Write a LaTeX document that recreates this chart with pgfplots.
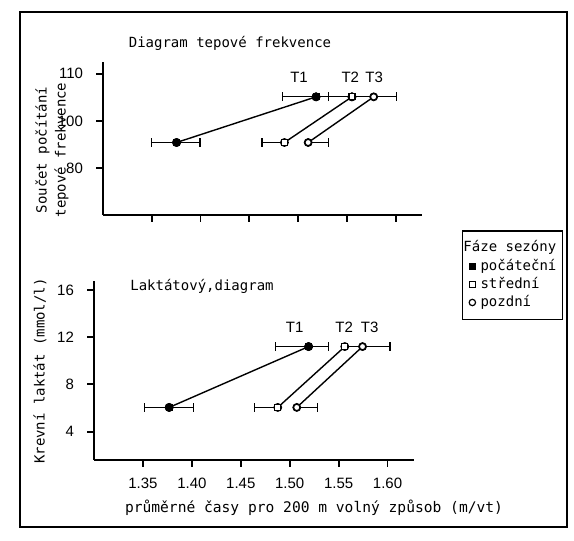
\documentclass[border=0pt]{standalone}
\usepackage{fontspec}
\usepackage{pgfplots}
\pgfplotsset{compat=1.18}
\setmainfont{DejaVu Sans Mono}
\newfontfamily\mono{DejaVu Sans Mono}
\newfontfamily\sans{Liberation Sans}
\begin{document}
\begin{tikzpicture}[x=0.5pt,y=0.5pt]
\path[use as bounding box] (0,0) rectangle (574,541);
\draw[line width=0.9pt] (20,529) rectangle (567,14);

\pgfplotsset{
  myax/.style={
    scale only axis, anchor=south west,
    xmin=1.30, xmax=1.627,
    axis lines=left, axis line style={-, line width=1pt},
    tick align=outside, major tick length=3.5pt,
    tick style={black, line width=0.9pt},
    xtick={1.35,1.40,1.45,1.50,1.55,1.60},
    tick label style={font=\sans\fontsize{7.5}{8}\selectfont},
    xticklabel style={anchor=center, yshift=-8pt},
    yticklabel style={xshift=-3pt},
    /pgf/number format/assume math mode=true,
    clip=false,
    legend image code/.code={\draw[mark repeat=2,mark phase=2,##1,only marks] plot coordinates {(0cm,0cm)(0.1cm,0cm)(0.2cm,0cm)};},
  },
  ebar/.style={only marks, mark=none, forget plot,
    error bars/x dir=#1, error bars/x explicit,
    error bars/error bar style={line width=0.6pt, black, solid},
    error bars/error mark options={rotate=90, mark size=2.2pt, line width=0.6pt, black}},
  ebarnc/.style={only marks, mark=none, forget plot,
    error bars/x dir=plus, error bars/x explicit, error bars/error mark=none,
    error bars/error bar style={line width=0.6pt, black, solid}},
  sA/.style={black, line width=0.7pt, mark=square*, mark size=1.5pt, mark options={solid, fill=black, line width=0.4pt}},
  sB/.style={black, line width=0.7pt, mark=square*, mark size=1.5pt, mark options={solid, fill=white, line width=0.6pt}},
  sC/.style={black, line width=0.7pt, mark=*, mark size=1.6pt, mark options={solid, fill=white, line width=0.6pt}},
}

% ---------- top: heart rate ----------
\begin{axis}[myax,
  at={(51.5pt,163pt)}, width=159.5pt, height=76.5pt,
  ymin=80, ymax=112.5,
  xticklabels={},
  ytick={90,100,110}, yticklabels={80,100,110},
  legend style={at={(1.125,-0.098)}, anchor=north west, draw=black, line width=0.8pt,
    font=\mono\fontsize{7}{8}\selectfont, cells={anchor=west}, row sep=0pt, column sep=1.5pt,
    nodes={inner sep=1pt}, inner xsep=2pt, inner ysep=4pt},
]
\addlegendimage{empty legend}
\addlegendentry{\hspace{-0.3cm}Fáze sezóny}
% error arms with caps (minus side)
\addplot[ebar=minus] coordinates {
  (1.3754,95.4) +- (0.026,0)
  (1.5184,105.1) +- (0.034,0)
  (1.4860,95.4) +- (0.023,0)
  (1.5552,105.1) +- (0.024,0)
};
% error arms with caps (plus side)
\addplot[ebar=plus] coordinates {
  (1.3754,95.4) +- (0.024,0)
  (1.5184,105.1) +- (0.013,0)
  (1.5103,95.4) +- (0.021,0)
  (1.5775,105.1) +- (0.023,0)
};
% arm without cap
\addplot[ebarnc] coordinates {
  (1.5552,105.1) +- (0.022,0)
};
\addplot[sA] coordinates {(1.3754,95.4) (1.5184,105.1)};
\addlegendentry{počáteční}
\addplot[sB] coordinates {(1.4860,95.4) (1.5552,105.1)};
\addlegendentry{střední}
\addplot[sC] coordinates {(1.5103,95.4) (1.5775,105.1)};
\addlegendentry{pozdní}
\node[font=\sans\fontsize{7.5}{8}\selectfont] at (axis cs:1.501,109.2) {T1};
\node[font=\sans\fontsize{7.5}{8}\selectfont] at (axis cs:1.5535,109.2) {T2};
\node[font=\sans\fontsize{7.5}{8}\selectfont] at (axis cs:1.578,109.2) {T3};
\end{axis}

% ---------- bottom: lactate ----------
\begin{axis}[myax,
  at={(47pt,40.5pt)}, width=160pt, height=89.5pt,
  ymin=1.6, ymax=16.75,
  xticklabels={1.35,1.40,1.45,1.50,1.55,1.60},
  ytick={4,8,12,16},
]
\addplot[ebar=minus] coordinates {
  (1.3768,6.05) +- (0.025,0)
  (1.5193,11.2) +- (0.034,0)
  (1.4878,6.05) +- (0.024,0)
};
\addplot[ebar=plus] coordinates {
  (1.3768,6.05) +- (0.025,0)
  (1.5193,11.2) +- (0.020,0)
  (1.5072,6.05) +- (0.021,0)
  (1.5744,11.2) +- (0.028,0)
};
\addplot[ebarnc] coordinates {
  (1.5563,11.2) +- (0.018,0)
};
\addplot[sA] coordinates {(1.3768,6.05) (1.5193,11.2)};
\addplot[sB] coordinates {(1.4878,6.05) (1.5563,11.2)};
\addplot[sC] coordinates {(1.5072,6.05) (1.5744,11.2)};
\node[font=\sans\fontsize{7.5}{8}\selectfont] at (axis cs:1.505,12.83) {T1};
\node[font=\sans\fontsize{7.5}{8}\selectfont] at (axis cs:1.5557,12.83) {T2};
\node[font=\sans\fontsize{7.5}{8}\selectfont] at (axis cs:1.5817,12.83) {T3};
\end{axis}

% ---------- texts ----------
\node[font=\mono\fontsize{7}{8}\selectfont] at (230,498) {Diagram tepové frekvence};
\node[font=\mono\fontsize{7}{8}\selectfont] at (202,255) {Laktátový,diagram};
\node[rotate=90, align=center, font=\mono\fontsize{7}{9.5}\selectfont] at (52,391) {Součet počítání\\tepové frekvence};
\node[rotate=90, font=\mono\fontsize{7}{8}\selectfont] at (40,170) {Krevní laktát (mmol/l)};
\node[font=\mono\fontsize{7.3}{8}\selectfont] at (314,33) {průměrné časy pro 200 m volný způsob (m/vt)};
\end{tikzpicture}
\end{document}
